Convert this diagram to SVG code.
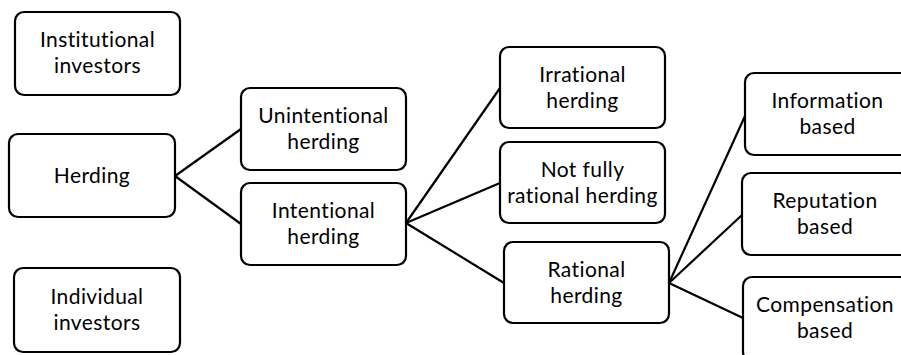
<svg xmlns="http://www.w3.org/2000/svg" width="901" height="355" viewBox="0 0 901 355">
<style>
.box{fill:#fff;stroke:#000;stroke-width:2.2}
.lbl{font-family:Lato,"Open Sans","Liberation Sans",sans-serif;font-size:21px;fill:#000;text-anchor:middle;font-variant-ligatures:none;letter-spacing:0.4px}
.con{stroke:#000;stroke-width:2.2;fill:none}
</style>
<rect width="901" height="355" fill="#fff"/>
<g id="connectors">
<line class="con" x1="175" y1="176" x2="241" y2="129"/>
<line class="con" x1="175" y1="176" x2="241" y2="224"/>
<line class="con" x1="406" y1="223" x2="500" y2="88"/>
<line class="con" x1="406" y1="223" x2="500" y2="183"/>
<line class="con" x1="406" y1="223" x2="504" y2="283"/>
<line class="con" x1="669" y1="283" x2="745" y2="116"/>
<line class="con" x1="669" y1="283" x2="742" y2="215"/>
<line class="con" x1="669" y1="283" x2="743" y2="318"/>
</g>
<g id="institutional">
<rect class="box" x="15" y="12" width="165" height="83" rx="9"/>
<text class="lbl" x="97.5" y="47">Institutional</text>
<text class="lbl" x="97.5" y="72.5">investors</text>
</g>
<g id="herding">
<rect class="box" x="9" y="134" width="166" height="83" rx="9"/>
<text class="lbl" x="92" y="183">Herding</text>
</g>
<g id="individual">
<rect class="box" x="14" y="268" width="166" height="84" rx="9"/>
<text class="lbl" x="97" y="304">Individual</text>
<text class="lbl" x="97" y="329.5">investors</text>
</g>
<g id="unintentional">
<rect class="box" x="241" y="88" width="165" height="82" rx="9"/>
<text class="lbl" x="323.5" y="123">Unintentional</text>
<text class="lbl" x="323.5" y="148.5">herding</text>
</g>
<g id="intentional">
<rect class="box" x="241" y="183" width="165" height="82" rx="9"/>
<text class="lbl" x="323.5" y="218">Intentional</text>
<text class="lbl" x="323.5" y="243.5">herding</text>
</g>
<g id="irrational">
<rect class="box" x="500" y="47" width="165" height="81" rx="9"/>
<text class="lbl" x="582.5" y="82">Irrational</text>
<text class="lbl" x="582.5" y="107.5">herding</text>
</g>
<g id="notfully">
<rect class="box" x="500" y="142" width="165" height="81" rx="9"/>
<text class="lbl" x="582.5" y="177">Not fully</text>
<text class="lbl" x="582.5" y="202.5">rational herding</text>
</g>
<g id="rational">
<rect class="box" x="504" y="242" width="165" height="81" rx="9"/>
<text class="lbl" x="586.5" y="277">Rational</text>
<text class="lbl" x="586.5" y="302.5">herding</text>
</g>
<g id="information">
<rect class="box" x="745" y="73" width="166" height="82" rx="9"/>
<text class="lbl" x="827.5" y="108">Information</text>
<text class="lbl" x="827.5" y="133.5">based</text>
</g>
<g id="reputation">
<rect class="box" x="742" y="173" width="166" height="82" rx="9"/>
<text class="lbl" x="825" y="208">Reputation</text>
<text class="lbl" x="825" y="233.5">based</text>
</g>
<g id="compensation">
<rect class="box" x="743" y="277" width="166" height="84" rx="9"/>
<text class="lbl" x="825" y="312">Compensation</text>
<text class="lbl" x="825" y="337.5">based</text>
</g>
</svg>
